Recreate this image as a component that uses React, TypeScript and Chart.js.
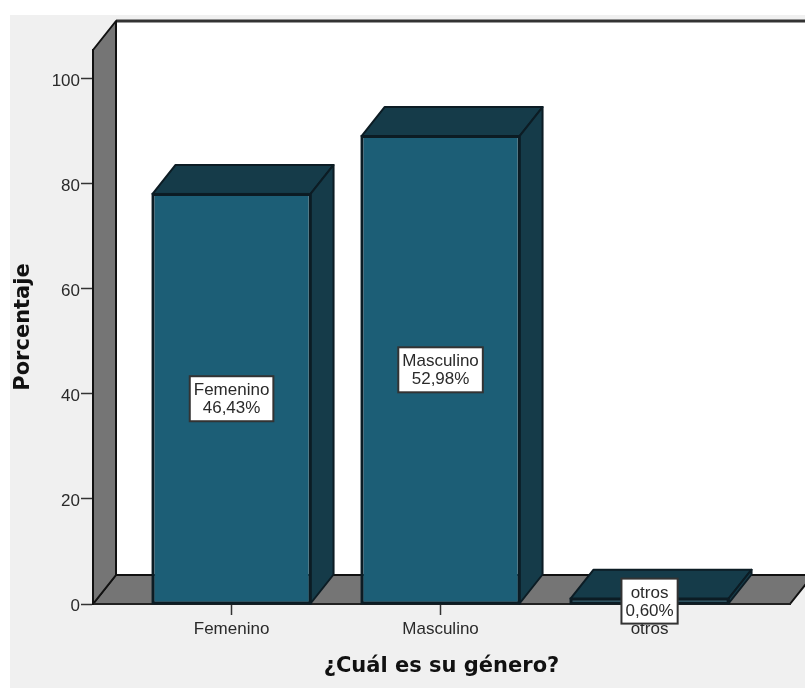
import React, { useEffect, useRef } from "react";
import { Chart, registerables } from "chart.js";

Chart.register(...registerables);

const categories = ["Femenino", "Masculino", "otros"];
const percentages = [46.43, 52.98, 0.6];
const categoryPositions = [0, 1, 2];
const axisTickLabels = [0, 20, 40, 60, 80, 100];

// The printed axis runs on its own units: one axis unit equals this many percentage points.
const PERCENT_PER_AXIS_UNIT = 0.5945;

const DEPTH_X = 23;
const DEPTH_Y = 29;

const PANEL = "#f0f0f0";
const WALL = "#757575";
const FRONT = "#1c5e76";
const SHADE = "#153b49";
const EDGE = "#0c1c24";
const INK = "#2a2a2a";
const TICK_FONT = { family: "'Liberation Sans'", size: 17 };
const TITLE_FONT = { family: "'DejaVu Sans'", size: 21, weight: "bold" as const };

function poly(ctx: CanvasRenderingContext2D, pts: number[][], fill: string, stroke: string) {
  ctx.beginPath();
  pts.forEach(([x, y], i) => (i ? ctx.lineTo(x, y) : ctx.moveTo(x, y)));
  ctx.closePath();
  ctx.fillStyle = fill;
  ctx.fill();
  ctx.lineWidth = 2;
  ctx.lineJoin = "round";
  ctx.strokeStyle = stroke;
  ctx.stroke();
}

// Panel, back wall, side wall and floor of the box behind the bars.
const roomPlugin = {
  id: "room",
  beforeDraw(chart: Chart) {
    const { ctx, width, height, chartArea: a } = chart;
    ctx.save();
    ctx.fillStyle = "#ffffff";
    ctx.fillRect(0, 0, width, height);
    ctx.fillStyle = PANEL;
    ctx.fillRect(10, 15, width - 10, height - 15);
    const backL = a.left + DEPTH_X;
    const backT = a.top - DEPTH_Y;
    const backB = a.bottom - DEPTH_Y;
    ctx.fillStyle = "#ffffff";
    ctx.fillRect(backL, backT, width - backL, backB - backT);
    ctx.strokeStyle = "#333333";
    ctx.lineWidth = 3;
    ctx.beginPath();
    ctx.moveTo(backL, backT);
    ctx.lineTo(width, backT);
    ctx.stroke();
    poly(ctx, [[a.left, a.bottom], [a.right, a.bottom], [a.right + DEPTH_X, backB], [backL, backB]], WALL, "#111111");
    poly(ctx, [[a.left, a.top], [backL, backT], [backL, backB], [a.left, a.bottom]], WALL, "#111111");
    ctx.restore();
  },
  // Top and side faces sit behind the front face of each bar.
  beforeDatasetsDraw(chart: Chart) {
    const { ctx } = chart;
    ctx.save();
    chart.getDatasetMeta(0).data.forEach((el: any) => {
      const l = el.x - el.width / 2;
      const r = el.x + el.width / 2;
      poly(ctx, [[l, el.y], [l + DEPTH_X, el.y - DEPTH_Y], [r + DEPTH_X, el.y - DEPTH_Y], [r, el.y]], SHADE, EDGE);
      poly(ctx, [[r, el.y], [r + DEPTH_X, el.y - DEPTH_Y], [r + DEPTH_X, el.base - DEPTH_Y], [r, el.base]], SHADE, EDGE);
    });
    ctx.restore();
  },
};

// Front-face outline, then a white callout with category name and percentage at the middle of each bar.
const calloutPlugin = {
  id: "callout",
  afterDatasetsDraw(chart: Chart) {
    const { ctx } = chart;
    ctx.save();
    ctx.font = `${TICK_FONT.size}px ${TICK_FONT.family}`;
    ctx.textAlign = "center";
    ctx.textBaseline = "middle";
    chart.getDatasetMeta(0).data.forEach((el: any, i: number) => {
      ctx.strokeStyle = EDGE;
      ctx.lineWidth = 2;
      ctx.strokeRect(el.x - el.width / 2, el.y, el.width, el.base - el.y);

      const name = categories[i];
      const pct = percentages[i].toFixed(2).replace(".", ",") + "%";
      const w = Math.max(ctx.measureText(name).width, ctx.measureText(pct).width) + 8;
      const h = 45;
      const cy = (el.y + el.base) / 2;
      ctx.fillStyle = "#ffffff";
      ctx.strokeStyle = "#333333";
      ctx.lineWidth = 2;
      ctx.fillRect(el.x - w / 2, cy - h / 2, w, h);
      ctx.strokeRect(el.x - w / 2, cy - h / 2, w, h);
      ctx.fillStyle = INK;
      ctx.fillText(name, el.x, cy - 8);
      ctx.fillText(pct, el.x, cy + 10);
    });
    ctx.restore();
  },
};

export default function App() {
  const ref = useRef<HTMLCanvasElement>(null);

  useEffect(() => {
    const chart = new Chart(ref.current!, {
      type: "bar",
      data: {
        datasets: [
          {
            data: categoryPositions.map((x, i) => ({ x, y: percentages[i] })),
            backgroundColor: FRONT,
            borderColor: EDGE,
            borderWidth: 2,
            borderSkipped: false,
            categoryPercentage: 1,
            barPercentage: 158 / 209,
          },
        ],
      },
      options: {
        animation: false,
        responsive: false,
        layout: { padding: { top: 50, right: 15, bottom: 0, left: 0 } },
        plugins: { legend: { display: false }, tooltip: { enabled: false } },
        scales: {
          x: {
            type: "linear",
            offset: false,
            min: -0.663,
            max: 2.672,
            afterBuildTicks: (s: any) => {
              s.ticks = categoryPositions.map((value) => ({ value }));
            },
            afterFit: (s: any) => {
              s.height = 84;
            },
            ticks: {
              autoSkip: false,
              maxRotation: 0,
              padding: 4,
              color: INK,
              font: TICK_FONT,
              callback: (v: any) => categories[v as number] ?? "",
            },
            grid: {
              offset: false,
              drawOnChartArea: false,
              tickLength: 11,
              tickColor: "#333333",
              tickWidth: 1.5,
            },
            border: { color: "#222222", width: 2 },
            title: {
              display: true,
              text: "¿Cuál es su género?",
              color: "#111111",
              font: TITLE_FONT,
              padding: { top: 0, bottom: 9 },
            },
          },
          y: {
            min: 0,
            max: 62.73,
            afterBuildTicks: (s: any) => {
              s.ticks = axisTickLabels.map((l) => ({ value: l * PERCENT_PER_AXIS_UNIT }));
            },
            afterFit: (s: any) => {
              s.width = 93;
            },
            ticks: {
              autoSkip: false,
              padding: 1,
              labelOffset: 2,
              color: INK,
              font: TICK_FONT,
              callback: (v: any) => String(Math.round((v as number) / PERCENT_PER_AXIS_UNIT)),
            },
            grid: {
              drawOnChartArea: false,
              tickLength: 12,
              tickColor: "#333333",
              tickWidth: 1.5,
            },
            border: { color: "#111111", width: 2 },
            title: {
              display: true,
              text: "Porcentaje",
              color: "#111111",
              font: TITLE_FONT,
              padding: { top: 11, bottom: 0 },
            },
          },
        },
      },
      plugins: [roomPlugin, calloutPlugin],
    } as any);
    return () => chart.destroy();
  }, []);

  return (
    <div style={{ position: "absolute", left: 0, top: 0 }}>
      <canvas ref={ref} width={805} height={688} style={{ display: "block" }} />
    </div>
  );
}
